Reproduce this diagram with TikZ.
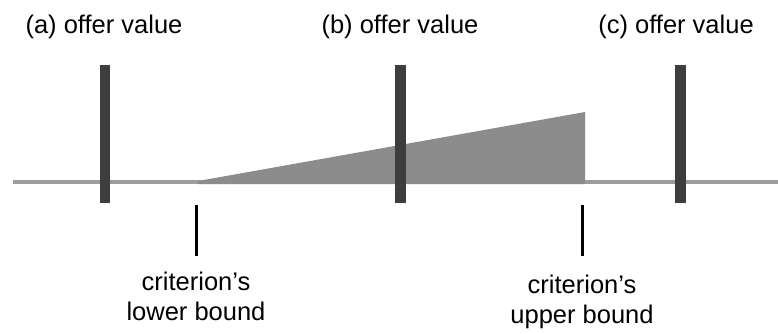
\documentclass[tikz,border=0pt]{standalone}
\usepackage{fontspec}
\setmainfont{Liberation Sans}
\definecolor{axisgray}{HTML}{9C9C9C}
\definecolor{areagray}{HTML}{8C8C8C}
\definecolor{bargray}{HTML}{3E3E3E}
\tikzset{
  title/.style={anchor=base, inner sep=0pt, font=\fontsize{25.5}{30}\selectfont},
  bound/.style={anchor=north, inner sep=0pt, align=center, font=\fontsize{25.5}{30}\selectfont},
  offerbar/.style={fill=bargray, draw=none},
  tick/.style={line width=3pt, black},
}
\begin{document}
\begin{tikzpicture}[x=1pt, y=-1pt]
\useasboundingbox (0,0) rectangle (778,333);
% axis
\fill[axisgray] (13,180) rectangle (778,184);
% criterion area
\fill[areagray] (198,181) -- (585,112) -- (585,184) -- (198,184) -- cycle;
% offer bars
\fill[offerbar] (100,65) rectangle (110,203);
\fill[offerbar] (395,65) rectangle (406,203);
\fill[offerbar] (675,65) rectangle (686,203);
% titles
\node[title] (ta) at (104,33) {(a) offer value};
\node[title] (tb) at (400,33) {(b) offer value};
\node[title] (tc) at (676,33) {(c) offer value};
% bounds
\coordinate (lt) at (196,205);
\coordinate (ut) at (582,205);
\draw[tick] (lt) -- (196,256);
\draw[tick] (ut) -- (582,256);
\node[bound] (lb) at (196,272) {criterion’s\\lower bound};
\node[bound] (ub) at (582,275) {criterion’s\\upper bound};
\end{tikzpicture}
\end{document}
